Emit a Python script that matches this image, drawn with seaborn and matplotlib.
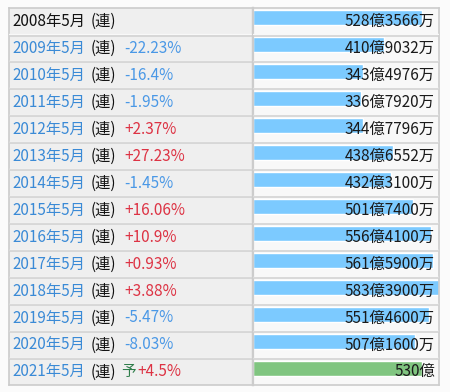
import matplotlib
matplotlib.use("Agg")
import matplotlib.pyplot as plt
import seaborn as sns
import pandas as pd

# 売上高の推移（億円）
years = ["2008年5月", "2009年5月", "2010年5月", "2011年5月", "2012年5月",
         "2013年5月", "2014年5月", "2015年5月", "2016年5月", "2017年5月",
         "2018年5月", "2019年5月", "2020年5月", "2021年5月"]
values = [528.3566, 410.9032, 343.4976, 336.7920, 344.7796, 438.6552, 432.3100,
          501.7400, 556.4100, 561.5900, 583.3900, 551.4600, 507.1600, 530.0]
value_labels = ["528億3566万", "410億9032万", "343億4976万", "336億7920万",
                "344億7796万", "438億6552万", "432億3100万", "501億7400万",
                "556億4100万", "561億5900万", "583億3900万", "551億4600万",
                "507億1600万", "530億"]
changes = ["", "-22.23%", "-16.4%", "-1.95%", "+2.37%", "+27.23%", "-1.45%",
           "+16.06%", "+10.9%", "+0.93%", "+3.88%", "-5.47%", "-8.03%", "+4.5%"]
forecast = [False] * 13 + [True]

df = pd.DataFrame({"year": years, "value": values, "forecast": forecast})

sns.set_theme(style="white")
plt.rcParams["font.family"] = ["Noto Sans CJK JP", "DejaVu Sans"]

W, H = 450, 392
fig = plt.figure(figsize=(W / 100, H / 100), dpi=100, facecolor="#fbfbfb")

top, bottom = 7.5, 384.5
left, mid, right = 9, 253, 439.5
n = len(years)
shift = 0.111
ylim = (n - 0.5 + shift, -0.5 + shift)
fs = 11

ax_l = fig.add_axes([left / W, (H - bottom) / H, (mid - left) / W, (bottom - top) / H])
ax_r = fig.add_axes([mid / W, (H - bottom) / H, (right - mid) / W, (bottom - top) / H])

# bars
palette = {False: "#7ccaff", True: "#80c580"}
sns.barplot(data=df, x="value", y="year", hue="forecast", palette=palette,
            width=0.556, orient="h", legend=False, dodge=False, saturation=1,
            ax=ax_r)
ax_r.set_xlim(0, max(values))
ax_r.set_ylim(*ylim)
ax_r.set_facecolor("#f8f8f8")
ax_r.set_xlabel("")
ax_r.set_ylabel("")
ax_r.set_xticks([])
ax_r.set_yticks([])

for i, lab in enumerate(value_labels):
    ax_r.text(0.975, i + shift + 0.03, lab, transform=ax_r.get_yaxis_transform(),
              ha="right", va="center", fontsize=fs, color="#1a1a1a")

# labels on the left
ax_l.set_facecolor("#efefef")
ax_l.set_xlim(left, mid)
ax_l.set_ylim(*ylim)
ax_l.set_xticks([])
ax_l.set_yticks([])

for i, y in enumerate(years):
    yc = i + shift + 0.03
    ax_l.text(12, yc, y, ha="left", va="center", fontsize=fs,
              color="#111111" if i == 0 else "#3a8ad6")
    ax_l.text(91, yc, "(連)", ha="left", va="center", fontsize=fs, color="#111111")
    c = changes[i]
    if not c:
        continue
    x0 = 124
    if forecast[i]:
        ax_l.text(121, yc, "予", ha="left", va="center", fontsize=fs - 0.5,
                  color="#2e7d4a")
        x0 = 137
    ax_l.text(x0, yc, c, ha="left", va="center", fontsize=fs,
              color="#4a98e6" if c.startswith("-") else "#dd3344")

# row separators
for ax in (ax_l, ax_r):
    for i in range(n - 1):
        ax.axhline(i + 0.5 + shift, color="#f8f8f8", lw=1.0, zorder=3)
        ax.axhline(i + 0.5 + shift + 0.04, color="#d0d0d0", lw=1.1, zorder=3)
    for s in ax.spines.values():
        s.set_color("#cccccc")
        s.set_linewidth(1.2)
ax_l.spines["right"].set_linewidth(1.6)
ax_r.spines["left"].set_linewidth(1.6)

fig.savefig("out.png", dpi=100, facecolor=fig.get_facecolor())
